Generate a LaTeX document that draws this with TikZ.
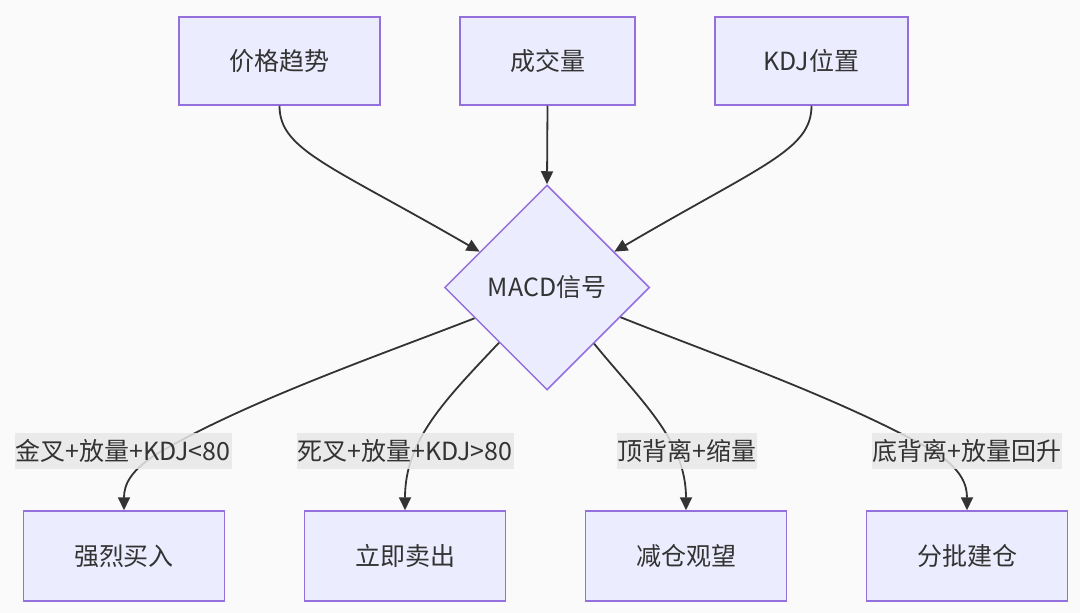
\documentclass[tikz,border=0pt]{standalone}
\usepackage{fontspec}
\setmainfont{Noto Sans CJK SC}
\usetikzlibrary{shapes.geometric,arrows.meta}
\definecolor{bgc}{HTML}{FAFAFA}
\definecolor{boxfill}{HTML}{ECECFF}
\definecolor{boxline}{HTML}{9370DB}
\definecolor{txt}{HTML}{333333}
\definecolor{lblbg}{HTML}{E8E8E8}
\begin{document}
\begin{tikzpicture}[x=1pt,y=-1pt,
  every node/.style={font=\fontsize{25}{30}\selectfont, text=txt},
  box/.style={draw=boxline, fill=boxfill, line width=1.5pt, rectangle, inner sep=0pt, minimum height=88pt},
  dia/.style={draw=boxline, fill=boxfill, line width=1.5pt, diamond, inner sep=0pt, minimum width=205pt, minimum height=205pt},
  conn/.style={draw=txt, line width=1.8pt, -{Triangle[length=13pt,width=12pt]}},
  lbl/.style={fill=lblbg, fill opacity=0.85, text opacity=1, inner xsep=1pt, inner ysep=6pt}
]
\useasboundingbox[fill=bgc] (0,0) rectangle (1080,613);
% top row
\node[box, minimum width=201pt] (b1) at (279.5,61) {价格趋势};
\node[box, minimum width=175pt] (b2) at (547.5,61) {成交量};
\node[box, minimum width=193pt] (b3) at (811.5,61) {KDJ位置};
% decision
\node[dia] (m) at (547,287.5) {MACD信号};
% bottom row
\node[box, minimum width=201pt, minimum height=90pt] (bA) at (124,556) {强烈买入};
\node[box, minimum width=201pt, minimum height=90pt] (bB) at (405,556) {立即卖出};
\node[box, minimum width=201pt, minimum height=90pt] (bC) at (686,556) {减仓观望};
\node[box, minimum width=201pt, minimum height=90pt] (bD) at (967,556) {分批建仓};
% top connectors
\draw[conn] (b1.south) .. controls (279.5,150) and (330,165) .. (m.152);
\draw[conn] (b2.south) -- (m.north);
\draw[conn] (b3.south) .. controls (811.5,150) and (762,165) .. (m.28);
% bottom connectors
\coordinate (kA) at (160,452);
\coordinate (kD) at (935,452);
\draw[conn] (m.203) .. controls (380,355) and (250,400) .. (kA) .. controls (130,470) and (124,485) .. (bA.north);
\draw[conn] (m.229.5) .. controls (445,400) and (405,440) .. (bB.north);
\draw[conn] (m.310.5) .. controls (640,400) and (686,440) .. (bC.north);
\draw[conn] (m.338) .. controls (715,355) and (845,400) .. (kD) .. controls (962,470) and (967,485) .. (bD.north);
% labels
\node[lbl] (lA) at (123,451) {金叉+放量+KDJ<80};
\node[lbl] (lB) at (405,451) {死叉+放量+KDJ>80};
\node[lbl] (lC) at (687,451) {顶背离+缩量};
\node[lbl] (lD) at (967,451) {底背离+放量回升};
\end{tikzpicture}
\end{document}
